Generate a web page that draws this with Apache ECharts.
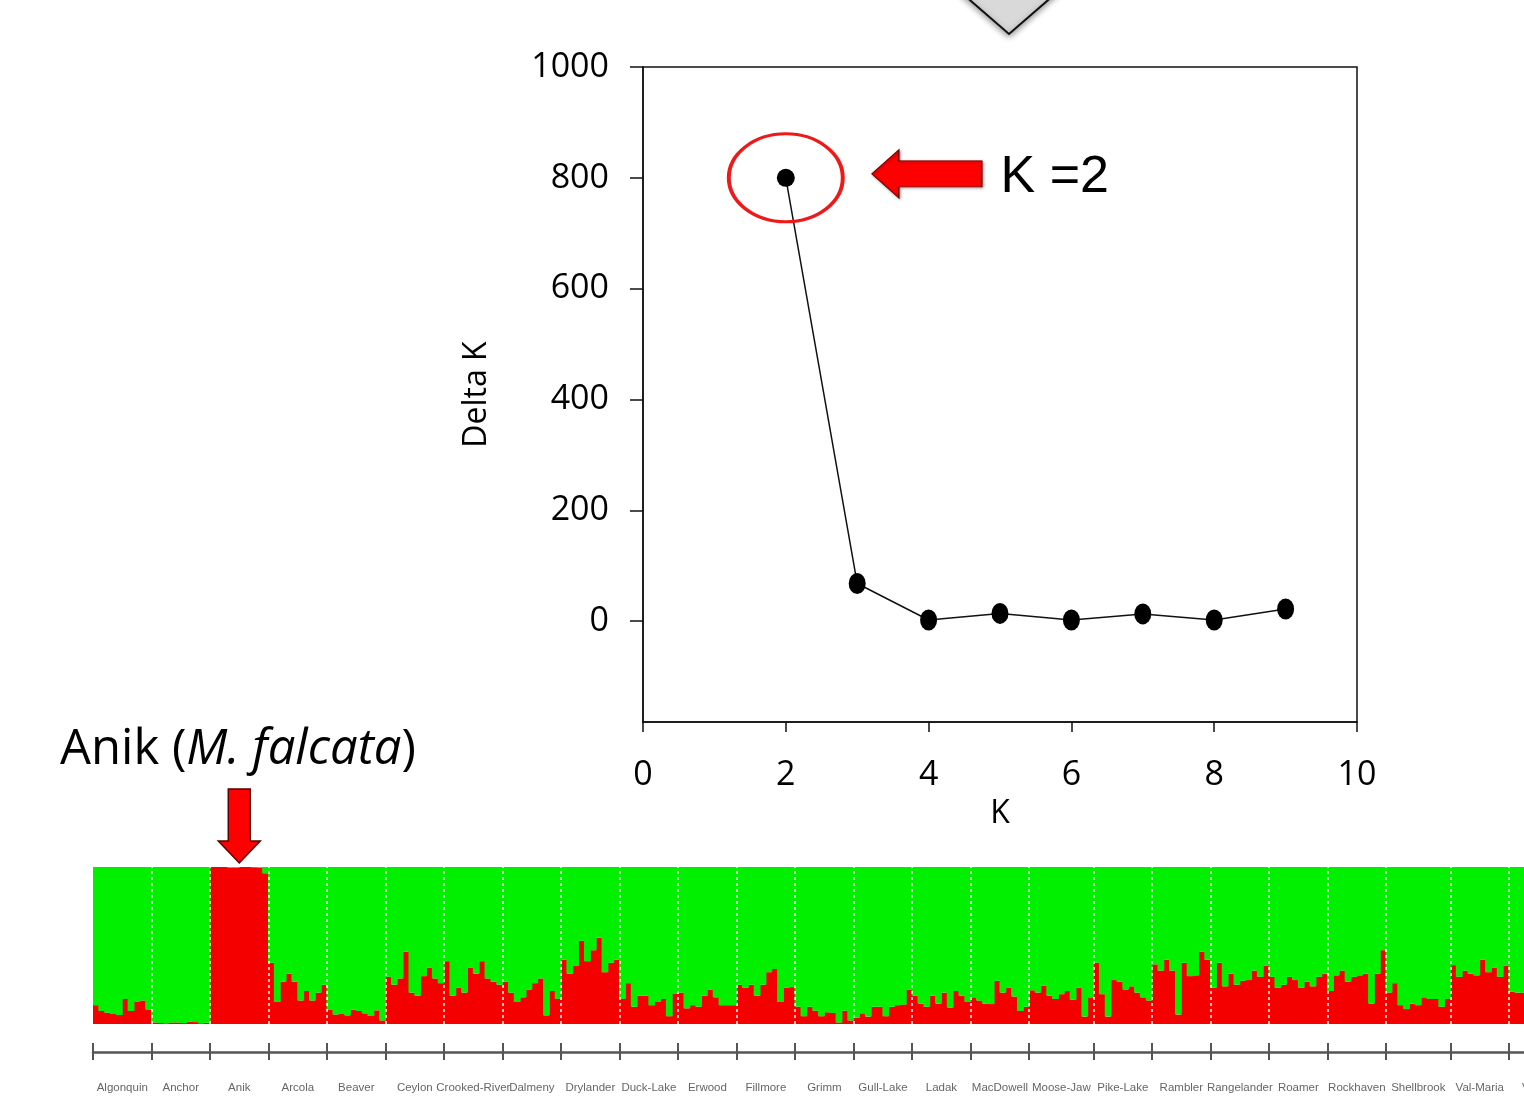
<!DOCTYPE html>
<html>
<head>
    <meta charset="UTF-8">
    <title>Delta K / STRUCTURE</title>
    <script src="https://cdn.jsdelivr.net/npm/echarts@6/dist/echarts.min.js"></script>
    <style>
        html, body { margin: 0; padding: 0; background: #fff; }
        #chart { width: 1524px; height: 1120px; }
    </style>
</head>
<body>
    <div id="chart"></div>
    <script>
        // Delta K by K
        const kValues = [2, 3, 4, 5, 6, 7, 8, 9];
        const deltaK = [800, 68, 2, 14, 2, 13, 2, 22];
        const yTicks = [0, 200, 400, 600, 800, 1000];

        // populations in the STRUCTURE bar plot (K = 2)
        const popNames = ['Algonquin', 'Anchor', 'Anik', 'Arcola', 'Beaver', 'Ceylon', 'Crooked-River', 'Dalmeny',
            'Drylander', 'Duck-Lake', 'Erwood', 'Fillmore', 'Grimm', 'Gull-Lake', 'Ladak', 'MacDowell',
            'Moose-Jaw', 'Pike-Lake', 'Rambler', 'Rangelander', 'Roamer', 'Rockhaven', 'Shellbrook', 'Val-Maria', 'Vernal'];

        // red cluster membership of each individual, one row per population
        const redShare = [
            [0.12, 0.083, 0.072, 0.064, 0.057, 0.16, 0.083, 0.14, 0.15, 0.093],
            [0.01, 0.006, 0.005, 0.01, 0.01, 0.006, 0.015, 0.012, 0.005, 0.008],
            [1, 1, 1, 0.995, 0.995, 1, 1, 0.998, 0.995, 0.96],
            [0.39, 0.14, 0.27, 0.32, 0.27, 0.15, 0.21, 0.15, 0.20, 0.25],
            [0.093, 0.061, 0.064, 0.055, 0.091, 0.083, 0.068, 0.051, 0.087, 0.023],
            [0.30, 0.25, 0.29, 0.46, 0.20, 0.18, 0.305, 0.36, 0.29, 0.26],
            [0.40, 0.18, 0.23, 0.20, 0.36, 0.32, 0.40, 0.29, 0.27, 0.25],
            [0.27, 0.20, 0.14, 0.17, 0.22, 0.26, 0.29, 0.055, 0.21, 0.16],
            [0.41, 0.32, 0.37, 0.53, 0.40, 0.47, 0.55, 0.33, 0.39, 0.41],
            [0.16, 0.26, 0.11, 0.18, 0.18, 0.12, 0.14, 0.16, 0.05, 0.195],
            [0.20, 0.10, 0.12, 0.11, 0.18, 0.22, 0.17, 0.12, 0.12, 0.12],
            [0.25, 0.23, 0.25, 0.18, 0.25, 0.33, 0.35, 0.14, 0.23, 0.235],
            [0.11, 0.05, 0.11, 0.085, 0.05, 0.075, 0.07, 0.01, 0.085, 0.023],
            [0.04, 0.068, 0.047, 0.11, 0.11, 0.05, 0.11, 0.12, 0.125, 0.22],
            [0.18, 0.13, 0.11, 0.18, 0.13, 0.20, 0.105, 0.21, 0.18, 0.14],
            [0.17, 0.15, 0.13, 0.127, 0.275, 0.20, 0.23, 0.175, 0.083, 0.11],
            [0.215, 0.20, 0.245, 0.18, 0.16, 0.19, 0.21, 0.155, 0.23, 0.047, 0.17],
            [0.39, 0.19, 0.047, 0.28, 0.27, 0.22, 0.24, 0.20, 0.17, 0.15],
            [0.38, 0.34, 0.41, 0.34, 0.06, 0.39, 0.305, 0.31, 0.46, 0.41],
            [0.23, 0.39, 0.24, 0.32, 0.25, 0.275, 0.28, 0.34, 0.30, 0.37],
            [0.30, 0.23, 0.25, 0.30, 0.28, 0.23, 0.27, 0.24, 0.30, 0.32],
            [0.21, 0.31, 0.34, 0.27, 0.30, 0.31, 0.32, 0.13, 0.32, 0.47],
            [0.20, 0.26, 0.12, 0.095, 0.13, 0.12, 0.17, 0.16, 0.16, 0.11, 0.16],
            [0.375, 0.30, 0.34, 0.32, 0.31, 0.41, 0.33, 0.36, 0.30, 0.37],
            [0.205, 0.20, 0.20, 0.22, 0.18, 0.25, 0.19, 0.23, 0.20, 0.21]
        ];

        // flatten
        const red = [];
        const bounds = [0];
        const centers = [];
        redShare.forEach(pop => {
            const start = red.length;
            pop.forEach(v => red.push(v));
            centers.push(start + pop.length / 2);
            bounds.push(red.length);
        });
        const green = red.map(v => +(1 - v).toFixed(3));
        const ids = red.map((v, i) => 'ind' + (i + 1));
        const N = red.length;
        const indW = 1416 / 242;   // pixel width of one individual

        const chart = echarts.init(document.getElementById('chart'));
        const font = '"Open Sans", sans-serif';

        const labelAxisBase = {
            type: 'value', gridIndex: 1, position: 'bottom', min: 0, max: N, offset: 28,
            splitLine: { show: false }
        };

        chart.setOption({
            backgroundColor: '#fff',
            animation: false,
            grid: [
                { left: 643, top: 67, width: 714, height: 655, show: true, borderColor: '#111', borderWidth: 1.5,
                  backgroundColor: 'transparent', outerBoundsMode: 'none' },
                { left: 93, top: 867, width: N * indW, height: 157, outerBoundsMode: 'none' }
            ],
            xAxis: [
                {
                    type: 'value', gridIndex: 0, min: 0, max: 10, interval: 2,
                    name: 'K', nameLocation: 'middle', nameGap: 76,
                    nameTextStyle: { fontFamily: font, fontSize: 32, color: '#000' },
                    axisLine: { onZero: false, lineStyle: { color: '#111', width: 1.5 } },
                    axisTick: { length: 10, lineStyle: { color: '#111', width: 1.5 } },
                    axisLabel: { margin: 36, fontFamily: font, fontSize: 34, color: '#000' },
                    splitLine: { show: false }
                },
                { type: 'category', gridIndex: 1, data: ids, show: false },
                Object.assign({}, labelAxisBase, {
                    axisLine: { onZero: false, lineStyle: { color: '#555', width: 2.5 } },
                    axisTick: { customValues: bounds, length: 8, lineStyle: { color: '#555', width: 2 } },
                    axisLabel: {
                        customValues: centers, margin: 30, fontFamily: 'Arial, "Liberation Sans"', fontSize: 11.5, color: '#666',
                        formatter: v => {
                            const i = centers.findIndex(c => Math.abs(c - v) < 0.01);
                            return i >= 0 ? popNames[i] : '';
                        }
                    }
                }),
                Object.assign({}, labelAxisBase, {
                    axisLine: { show: false, onZero: false },
                    axisTick: { customValues: bounds, inside: true, length: 9, lineStyle: { color: '#555', width: 2 } },
                    axisLabel: { show: false }
                })
            ],
            yAxis: [
                {
                    type: 'value', gridIndex: 0, min: -182, max: 1000,
                    name: 'Delta K', nameLocation: 'middle', nameGap: 150, nameRotate: 90,
                    nameTextStyle: { fontFamily: font, fontSize: 32, color: '#000' },
                    axisLine: { show: true, onZero: false, lineStyle: { color: '#111', width: 1.5 } },
                    axisTick: { show: true, customValues: yTicks, length: 13, lineStyle: { color: '#111', width: 1.5 } },
                    axisLabel: { customValues: yTicks, margin: 34, fontFamily: font, fontSize: 34, color: '#000',
                        formatter: v => String(v) },
                    splitLine: { show: false }
                },
                { type: 'value', gridIndex: 1, min: 0, max: 1, show: false }
            ],
            series: [
                {
                    type: 'line', xAxisIndex: 0, yAxisIndex: 0,
                    data: kValues.map((k, i) => [k, deltaK[i]]),
                    symbol: 'circle',
                    symbolSize: (v, p) => p.dataIndex === 0 ? 18 : [17, 21],
                    itemStyle: { color: '#000' },
                    lineStyle: { color: '#111', width: 1.5 },
                    markPoint: {
                        silent: true,
                        data: [
                            {
                                coord: [2, 800], symbol: 'circle', symbolSize: [114, 88],
                                itemStyle: { color: 'rgba(0,0,0,0)', borderColor: '#ee1a1a', borderWidth: 3.5 },
                                label: { show: false }
                            },
                            {
                                coord: [2, 800], symbol: 'path://M0,24 L27,0 L27,11 L110,11 L110,37 L27,37 L27,48 Z',
                                symbolSize: [110, 48], symbolOffset: [141, -4],
                                itemStyle: { color: '#f00', borderColor: '#7a0000', borderWidth: 1, shadowColor: 'rgba(0,0,0,0.35)', shadowBlur: 3, shadowOffsetX: 1, shadowOffsetY: 1 },
                                label: { show: false }
                            },
                            {
                                coord: [2, 800], symbol: 'circle', symbolSize: 1, symbolOffset: [269, 0],
                                itemStyle: { color: 'rgba(0,0,0,0)' },
                                label: { show: true, position: 'inside', formatter: 'K =2', fontFamily: 'Arial, "Liberation Sans"', fontSize: 52, color: '#000' }
                            }
                        ]
                    }
                },
                {
                    name: 'red', type: 'bar', xAxisIndex: 1, yAxisIndex: 1, stack: 'q',
                    data: red, barWidth: indW + 1,
                    itemStyle: { color: '#f50000' }
                },
                {
                    name: 'green', type: 'bar', xAxisIndex: 1, yAxisIndex: 1, stack: 'q',
                    data: green, barWidth: indW + 1,
                    itemStyle: { color: '#00f000' }
                },
                {
                    type: 'line', xAxisIndex: 2, yAxisIndex: 1, data: [],
                    markLine: {
                        silent: true, symbol: ['none', 'none'],
                        label: { show: false },
                        lineStyle: { color: '#fff', type: [3, 3], width: 1.5 },
                        data: bounds.slice(1, -1).map(b => ({ xAxis: b }))
                    }
                }
            ]
        });

        // annotations: Anik arrow and the grey pointer at the top
        const anikX = chart.convertToPixel({ xAxisIndex: 2 }, centers[2]);
        const barTop = chart.convertToPixel({ yAxisIndex: 1 }, 1);
        chart.setOption({
            graphic: [
                {
                    type: 'polygon',
                    shape: { points: [[956, -12], [1009, 34], [1062, -12]] },
                    style: { fill: '#d9d9d9', stroke: '#111', lineWidth: 2, shadowColor: 'rgba(0,0,0,0.4)', shadowBlur: 6, shadowOffsetY: 2 }
                },
                {
                    type: 'text', x: 60, y: 750,
                    style: {
                        text: 'Anik ({i|M. falcata})',
                        font: '49px "Open Sans", sans-serif', fill: '#000', verticalAlign: 'middle',
                        rich: { i: { fontStyle: 'italic', fontSize: 49, fontFamily: '"Open Sans", sans-serif' } }
                    }
                },
                {
                    type: 'polygon',
                    shape: {
                        points: [[anikX - 11, barTop - 78], [anikX + 11, barTop - 78], [anikX + 11, barTop - 26],
                            [anikX + 21, barTop - 26], [anikX, barTop - 4], [anikX - 21, barTop - 26], [anikX - 11, barTop - 26]]
                    },
                    style: { fill: '#f00', stroke: '#5a0000', lineWidth: 1.5 }
                }
            ]
        });
    </script>
</body>
</html>
